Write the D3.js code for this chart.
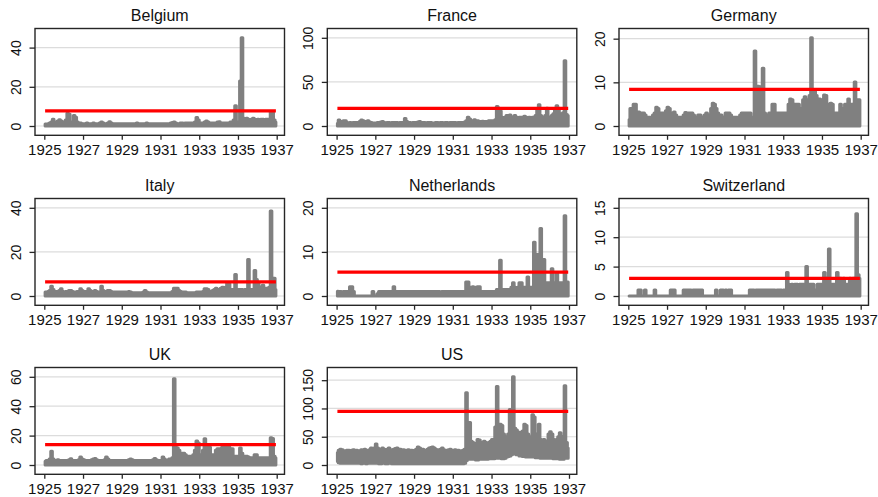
<!DOCTYPE html>
<html>
<head>
<meta charset="utf-8">
<script src="https://cdn.jsdelivr.net/npm/d3@7"></script>
<style>
  html, body { margin: 0; padding: 0; background: #ffffff; }
  svg { display: block; }
  text { font-family: "Liberation Sans", Arial, Helvetica, sans-serif; fill: #111; }
</style>
</head>
<body>
<svg id="chart" width="878" height="497"></svg>
<script>
// Monthly observations, January 1925 to December 1936 (12 values per row = one year)
const countries = ["Belgium", "France", "Germany", "Italy", "Netherlands", "Switzerland", "UK", "US"];
const firstYear = 1925;

const belgium = [
  1, 1, 1.2, 1.5, 2, 3.4, 2, 1.5, 2.5, 3.2, 2.5, 2,
  2, 3, 6.5, 6, 2, 2, 5.3, 4.5, 2, 1.5, 1.5, 1.2,
  1.2, 1.2, 1.5, 1.2, 1.2, 1.2, 1.5, 1.2, 1.2, 1.2, 1.5, 2,
  1.5, 1.2, 1.2, 1.5, 2.2, 1.5, 1.2, 1.2, 1.2, 1.2, 1.2, 1.2,
  1.2, 1.2, 1.2, 1.2, 1.2, 1.2, 1.2, 1.2, 1.2, 1.5, 1.2, 1.2,
  1.2, 1.2, 1.2, 1.5, 1.2, 1.2, 1.2, 1.2, 1.2, 1.2, 1.2, 1.2,
  1.2, 1.2, 1.2, 1.2, 1.2, 1.2, 1.5, 1.8, 2, 1.5, 1.2, 1.2,
  1.5, 1.5, 1.2, 1.5, 1.5, 1.5, 1.5, 1.5, 1.5, 2, 4.4, 3,
  1.5, 1.5, 1.5, 2, 2.5, 2, 1.5, 1.5, 1.5, 1.5, 1.5, 2,
  2.2, 1.5, 1.5, 1.5, 1.5, 1.5, 1.5, 2, 2, 3, 10.3, 2,
  2, 23, 45, 4, 3.5, 4, 3.5, 3, 3.5, 4, 3.5, 3,
  3.5, 3, 3.5, 3.5, 3, 3.5, 3.5, 3.5, 7.3, 7, 3, 2
];

const france = [
  3, 6.8, 5, 4, 6, 6, 4, 3.5, 4, 3.5, 4, 4,
  4, 4, 5, 6.8, 6, 4, 5, 6, 4.5, 4, 3.5, 3.5,
  3.5, 4, 4, 4.5, 5, 4, 3.5, 4, 4, 3.5, 4, 4,
  4, 4, 3.5, 4, 4, 4, 8.4, 5, 4, 4, 3.5, 4,
  4, 4, 4.5, 5, 4, 4, 4, 3.5, 4, 4, 4, 3.5,
  3.5, 4, 4, 3.5, 4, 4, 3.5, 4, 4, 3.5, 4, 4,
  4, 4, 3.5, 4, 4, 4, 4, 4.5, 6, 10, 8, 6,
  6, 7, 6, 6, 5, 5, 5.5, 5, 5, 5, 6, 6,
  6, 5, 7, 22, 20, 17, 10, 9, 10, 12, 11, 12.5,
  10, 9, 12, 10, 9, 10, 10, 9, 11, 10, 9, 10,
  9, 10, 9, 12, 18, 24, 12, 10, 10, 12, 20, 10,
  10, 12, 14, 18, 23, 20, 14, 12, 15, 74, 13, 12
];

const germany = [
  1.5, 4, 4, 5, 5, 3.2, 3.2, 3, 3, 3, 2.5, 2,
  2, 2, 2, 2.5, 3, 4.3, 4, 3, 3, 3, 3, 3.5,
  4.3, 4, 3, 3, 3.2, 2.5, 2, 2, 2, 2, 2.5, 3.1,
  3, 3, 3, 3, 2.5, 2, 2, 2.5, 2.5, 2, 2, 2.5,
  3, 2.5, 2.5, 4, 5.2, 5, 4, 3, 2.5, 2.5, 2, 2,
  3, 3, 3, 2.5, 2, 2, 2, 2, 2, 2.5, 3, 3,
  3, 3, 3, 3, 2, 2, 17.2, 9, 9.1, 9, 8, 13.2,
  3, 2.5, 2.5, 3, 3, 5, 5, 3, 3, 3, 3, 3,
  3, 3, 3, 5, 6.2, 6, 4, 5, 5, 5, 4, 4,
  6, 6.7, 6, 6, 7, 20.2, 8, 8, 7, 6, 6.2, 6,
  6, 7.1, 7, 5, 4, 5.2, 5, 3, 3, 3, 3, 5,
  4, 4, 5, 5, 6.2, 5, 5, 4.5, 10.1, 6, 6, 6
];

const italy = [
  1.8, 1.8, 2, 2.5, 4.4, 3, 2, 2, 2, 2.5, 3.3, 2,
  1.8, 2, 2, 2.5, 2.5, 2, 1.8, 1.8, 2, 2, 3.3, 2.5,
  2, 2, 2, 3.3, 2.5, 2, 2, 2.5, 2, 1.8, 1.8, 4.4,
  2.5, 2, 2, 2.5, 2.5, 2, 1.8, 1.8, 1.8, 1.8, 1.8, 1.8,
  1.8, 1.8, 1.8, 1.8, 2, 1.8, 1.5, 1.5, 1.5, 1.5, 1.5, 1.5,
  1.5, 1.8, 2.5, 1.8, 1.5, 1.5, 1.5, 1.5, 1.5, 1.5, 1.5, 1.5,
  1.5, 1.5, 1.5, 1.5, 1.5, 1.5, 1.5, 2, 3.5, 3.5, 3.5, 2.5,
  2, 1.8, 1.8, 1.8, 1.5, 1.5, 1.5, 1.5, 1.5, 1.5, 1.8, 1.8,
  1.8, 1.8, 2, 3.3, 3.3, 3, 2, 2, 2.5, 3, 3.5, 3,
  3, 3.5, 4, 3.5, 4, 6, 5.5, 3, 3, 3, 9.7, 3,
  3, 3, 3, 2.5, 3, 3, 16.6, 3, 3, 3, 11.6, 7.5,
  6, 4, 4, 4.9, 3.5, 3.5, 3.5, 4, 38.6, 7.5, 8, 3
];

const netherlands = [
  1.1, 1, 1, 0, 1, 1, 1, 1, 2.1, 2.1, 1, 0,
  0, 0, 0, 0, 0, 0, 0, 0, 0, 0, 1, 0,
  0, 0.5, 1, 1, 1, 1, 1, 1, 1, 1, 1, 2.1,
  1, 1, 1, 1, 1, 1, 1, 1, 1, 1, 1, 1,
  1, 1, 1, 1, 1, 1, 1, 1, 1, 1, 1, 1,
  1, 1, 1, 1, 0.5, 1, 1, 1, 1, 1, 1, 1,
  1, 1, 1, 1, 1, 1, 1, 1, 3.2, 3.2, 2, 2,
  2.1, 2, 1, 2.1, 2.1, 1, 1, 1, 1, 1, 1, 1,
  1, 1, 1, 1.5, 1.5, 8.1, 1.5, 1.5, 1.5, 1.5, 1.5, 1.5,
  2, 3, 2, 1.5, 2, 3, 3, 2, 2, 2, 4.3, 2,
  2, 2, 12.2, 3, 9.4, 3, 15.3, 8.3, 8.3, 3, 3, 3,
  3, 6.2, 3, 3, 5.1, 3, 3, 3, 3, 18.2, 3.2, 3.2
];

const switzerland = [
  0, 0, 0, 0, 0, 0, 1, 1, 0, 0, 1, 0,
  0, 0, 0, 0, 1, 0, 0, 0, 0, 0, 0, 0,
  0, 0, 1, 1, 1, 0, 0, 0, 0, 0, 1, 1,
  1, 1, 1, 0, 1, 1, 1, 1, 1, 1, 0, 0,
  0, 0, 0, 0, 0, 0, 1, 0, 0, 1, 1, 0,
  1, 0, 1, 1, 0, 0, 0, 0, 0, 0, 0, 0,
  0, 0, 0, 1, 1, 1, 0, 1, 1, 1, 1, 1,
  1, 1, 1, 1, 1, 1, 1, 0, 1, 1, 1, 0,
  1, 1, 4, 2, 1, 2, 1, 2, 2, 1, 2, 2,
  2, 2, 5, 2, 2, 2, 2, 1, 1, 2, 2, 2,
  2, 4, 2, 3, 8, 2, 2, 2, 2, 4, 2, 3,
  2, 3, 2, 2, 2, 3, 2, 3, 2, 14, 3.6, 3
];

const uk = [
  2.5, 3, 3, 4, 9.4, 4, 3, 3, 3.5, 3, 3, 3,
  3, 3, 3, 3.5, 4.3, 3, 3, 3, 3, 3.5, 5.5, 4,
  3.5, 3, 3, 3, 3, 3.5, 4, 4.5, 3.5, 3, 3, 3,
  3, 3.5, 5.5, 4, 3, 3, 3, 3, 3, 3, 3, 3,
  3, 3, 3, 3, 3.5, 4, 3.5, 3, 3, 3, 3, 3,
  3, 3, 3, 3, 3, 3, 3, 3.5, 4.5, 3.5, 3, 3,
  3, 5.5, 4, 3, 3, 4, 4, 5, 58.6, 12, 11.6, 10,
  8, 8, 8, 7, 6, 6, 6, 6, 7, 10, 16.4, 15,
  7, 7, 10, 17.8, 14, 12, 12, 7, 7, 7, 10, 11,
  11, 10, 12.3, 12.3, 9, 12, 12, 11, 11, 6, 6, 6,
  6, 11.6, 8, 6, 6, 6, 5.5, 5, 5, 5, 7, 7,
  5, 5, 5, 5, 5, 5, 5, 5, 18.5, 18, 6, 5
];

const us = [
  22, 26, 28, 27, 25, 22, 26, 26, 24, 26, 27, 24,
  26, 25, 24, 27, 25, 28, 26, 24, 27, 30, 28, 30,
  37, 30, 28, 26, 30, 28, 26, 28, 30, 27, 26, 28,
  29, 30, 27, 28, 25, 27, 26, 25, 27, 25, 26, 24,
  26, 28, 32, 30, 27, 28, 25, 26, 28, 30, 31, 32,
  30, 28, 26, 27, 28, 30, 27, 26, 25, 27, 28, 26,
  26, 27, 25, 26, 24, 25, 26, 28, 128, 40, 75, 42,
  40, 38, 36, 45, 44, 38, 40, 42, 40, 38, 40, 42,
  45, 44, 67, 139, 72, 72, 70, 55, 50, 50, 55, 98,
  60, 156, 65, 62, 55, 58, 52, 60, 72, 70, 55, 50,
  50, 89, 85, 55, 50, 72, 45, 42, 45, 40, 42, 55,
  59, 55, 45, 42, 45, 50, 57, 45, 50, 140, 40, 30
];

// lower edge of the US monthly band
const usLow = [
  6, 4, 3, 3, 4, 3, 3, 3, 4, 3, 3, 3,
  3, 3, 3, 2, 3, 3, 2, 3, 3, 3, 3, 3,
  3, 3, 2, 2, 3, 3, 2, 2, 3, 3, 2, 2,
  2, 2, 2, 3, 2, 2, 2, 2, 2, 2, 2, 2,
  2, 2, 2, 2, 2, 2, 2, 2, 2, 2, 2, 2,
  2, 2, 2, 2, 2, 2, 2, 2, 2, 2, 2, 2,
  2, 2, 2, 2, 2, 2, 2, 3, 8, 10, 10, 10,
  10, 10, 9, 9, 10, 10, 10, 10, 10, 10, 11, 11,
  11, 11, 12, 12, 12, 12, 11, 11, 12, 14, 15, 16,
  18, 20, 20, 18, 18, 16, 16, 15, 15, 14, 14, 14,
  14, 14, 14, 13, 13, 13, 12, 12, 12, 12, 12, 12,
  12, 12, 11, 11, 11, 11, 10, 10, 10, 12, 12, 12
];

const seriesHigh = [belgium, france, germany, italy, netherlands, switzerland, uk, us];
const seriesLow = { US: usLow };
const thresholds = [7.7, 20, 8.4, 6.4, 5.4, 3, 13.9, 95];
const yTicks = [
  [0, 20, 40], [0, 50, 100], [0, 10, 20],
  [0, 20, 40], [0, 10, 20], [0, 5, 10, 15],
  [0, 20, 40, 60], [0, 50, 100, 150]
];
const xTicks = [1925, 1927, 1929, 1931, 1933, 1935, 1937];

// layout of the 3-column grid of panels
const colLeft = [35, 327.3, 619];
const rowTop = [28.5, 198.5, 367.5];
const frameW = 249.5, frameH = 106.8;
const padY = 9.3, padL = 9.3, padR = 7.8;

const svg = d3.select("#chart");
svg.append("rect").attr("width", 878).attr("height", 497).attr("fill", "#ffffff");

countries.forEach((name, i) => {
  const L = colLeft[i % 3];
  const T = rowTop[Math.floor(i / 3)];
  const g = svg.append("g");

  const hi = seriesHigh[i];
  const lo = seriesLow[name];
  const rows = hi.map((v, k) => ({
    t: firstYear + (k + 0.5) / 12,
    hi: v,
    lo: lo ? lo[k] : 0
  }));

  const x = d3.scaleLinear().domain([1925, 1937]).range([L + padL, L + frameW - padR]);
  const ticks = yTicks[i];
  const yMax = Math.max(d3.max(hi), ticks[ticks.length - 1]);
  const y = d3.scaleLinear().domain([0, yMax]).range([T + frameH - padY, T + padY]);

  // horizontal grid lines
  g.append("g").selectAll("line").data(ticks).join("line")
    .attr("x1", L).attr("x2", L + frameW)
    .attr("y1", d => y(d)).attr("y2", d => y(d))
    .attr("stroke", "#dcdcdc").attr("stroke-width", 1.2);

  // series band
  const area = d3.area()
    .x(d => x(d.t))
    .y0(d => y(d.lo))
    .y1(d => y(d.hi))
    .curve(d3.curveStep);
  g.append("path").datum(rows)
    .attr("d", area)
    .attr("fill", "#808080")
    .attr("stroke", "#808080")
    .attr("stroke-width", 3)
    .attr("stroke-linejoin", "round");

  // threshold line
  const span = [rows[0].t, rows[rows.length - 1].t];
  g.append("path").datum(span)
    .attr("d", d3.line().x(d => x(d)).y(() => y(thresholds[i])))
    .attr("fill", "none")
    .attr("stroke", "#ff0000")
    .attr("stroke-width", 3.2);

  // frame
  g.append("rect")
    .attr("x", L).attr("y", T).attr("width", frameW).attr("height", frameH)
    .attr("fill", "none").attr("stroke", "#262626").attr("stroke-width", 1.4);

  // y axis
  const yAxis = d3.axisLeft(y).tickValues(ticks).tickSize(5.5).tickPadding(0).tickFormat(d3.format("d"));
  const ya = g.append("g").attr("transform", `translate(${L},0)`).call(yAxis);
  ya.select(".domain").remove();
  ya.selectAll(".tick line").attr("stroke", "#262626").attr("stroke-width", 1.3);
  ya.selectAll(".tick text")
    .attr("x", null).attr("dy", null)
    .attr("text-anchor", "middle")
    .attr("transform", "translate(-14.5,0) rotate(-90)")
    .style("font-size", "14px")
    .attr("fill", "#111");

  // x axis
  const xAxis = d3.axisBottom(x).tickValues(xTicks).tickSize(4.5).tickPadding(0).tickFormat(d3.format("d"));
  const xa = g.append("g").attr("transform", `translate(0,${T + frameH})`).call(xAxis);
  xa.select(".domain").remove();
  xa.selectAll(".tick line").attr("stroke", "#262626").attr("stroke-width", 1.3);
  xa.selectAll(".tick text")
    .attr("y", 19.5).attr("dy", null)
    .style("font-size", "15px")
    .attr("fill", "#111");

  // title
  g.append("text")
    .attr("x", L + frameW / 2)
    .attr("y", T - 8)
    .attr("text-anchor", "middle")
    .style("font-size", "16px")
    .text(name);
});
</script>
</body>
</html>
